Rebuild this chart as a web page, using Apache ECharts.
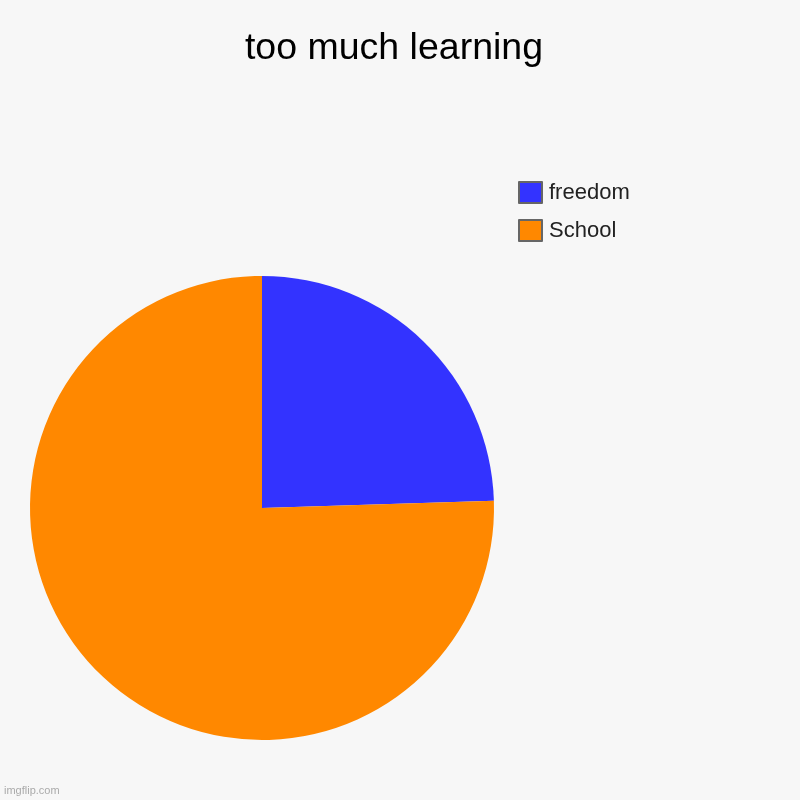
<!DOCTYPE html>
<html>
<head>
<meta charset="utf-8">
<script src="https://cdn.jsdelivr.net/npm/echarts@6/dist/echarts.min.js"></script>
<style>
html,body{margin:0;padding:0;background:#f7f7f7;}
#c{width:800px;height:800px;}
</style>
</head>
<body>
<div id="c"></div>
<script>
const titleText = "too much learning";
const categories = ["freedom", "School"];
const values = [24.5, 75.5];
const colors = ["#3333ff", "#ff8800"];

const chart = echarts.init(document.getElementById('c'), null, {renderer: 'canvas'});
chart.setOption({
  backgroundColor: '#f7f7f7',
  animation: false,
  legend: {
    orient: 'vertical',
    left: 513,
    top: 176,
    icon: 'rect',
    itemWidth: 23,
    itemHeight: 21,
    itemGap: 15,
    data: categories,
    itemStyle: {borderColor: '#666666', borderWidth: 2},
    textStyle: {fontFamily: 'Liberation Sans, Arial, sans-serif', fontSize: 22, color: '#222', padding: [0, 0, 0, 2]}
  },
  graphic: [{
    type: 'text',
    x: 394,
    y: 49,
    style: {text: titleText, font: '37.5px Liberation Sans, Arial, sans-serif', fill: '#000', textAlign: 'center', textVerticalAlign: 'middle'}
  }, {
    type: 'text',
    left: 4,
    top: 785,
    style: {text: 'imgflip.com', font: '11px Liberation Sans, Arial, sans-serif', fill: '#aaaaaa'}
  }],
  series: [{
    type: 'pie',
    center: [262, 508],
    radius: 232,
    startAngle: 90,
    clockwise: true,
    label: {show: false},
    labelLine: {show: false},
    emphasis: {disabled: true},
    data: categories.map((n, i) => ({name: n, value: values[i], itemStyle: {color: colors[i]}}))
  }]
});
</script>
</body>
</html>
